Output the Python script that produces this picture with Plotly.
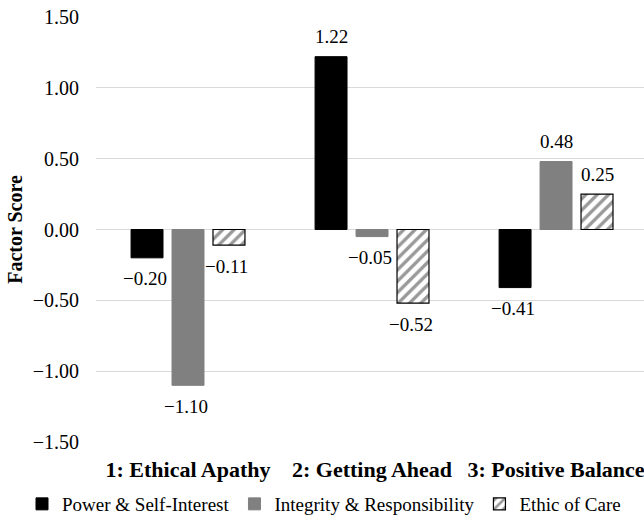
import plotly.graph_objects as go

# Factor scores per profile
categories = ["1: Ethical Apathy", "2: Getting Ahead", "3: Positive Balance"]
power_self_interest = [-0.20, 1.22, -0.41]
integrity_responsibility = [-1.10, -0.05, 0.48]
ethic_of_care = [-0.11, -0.52, 0.25]

series_names = ["Power & Self-Interest", "Integrity & Responsibility", "Ethic of Care"]
y_ticks = [-1.5, -1.0, -0.5, 0.0, 0.5, 1.0, 1.5]

FONT = "Liberation Serif"
W, H = 644, 520
M_L, M_R, M_T, M_B = 96, 0, 17, 78
X_RANGE = [-0.5, 2.478]
BARGAP = 0.332
BARGROUPGAP = 0.22

fig = go.Figure()

fig.add_trace(go.Bar(
    name=series_names[0], x=categories, y=power_self_interest,
    marker=dict(color="#000000", line=dict(color="#000000", width=1)),
))
fig.add_trace(go.Bar(
    name=series_names[1], x=categories, y=integrity_responsibility,
    marker=dict(color="#808080", line=dict(color="#808080", width=1)),
))
fig.add_trace(go.Bar(
    name=series_names[2], x=categories, y=ethic_of_care,
    marker=dict(
        color="#ffffff",
        line=dict(color="#000000", width=1.2),
        pattern=dict(shape="/", fgcolor="#333333", bgcolor="#ffffff",
                     size=8, solidity=0.42),
    ),
))

# value labels, one per bar, offset to each bar's slot within its group
plot_w = W - M_L - M_R
plot_h = H - M_T - M_B
px_per_unit = plot_w / (X_RANGE[1] - X_RANGE[0])
slot_px = (1 - BARGAP) / 3 * px_per_unit
annotations = []
for k, values in enumerate([power_self_interest, integrity_responsibility, ethic_of_care]):
    for cat, v in zip(categories, values):
        label = f"{v:.2f}".replace("-", "\u2212")
        annotations.append(dict(
            x=cat, y=v, xref="x", yref="y",
            text=label, showarrow=False,
            xshift=(k - 1) * slot_px + (-2 if v < 0 else 0),
            yshift=20 if v >= 0 else -21,
            xanchor="center", yanchor="middle",
            font=dict(family=FONT, size=19, color="#000000"),
        ))

# legend anchored left of the plot area so it may span the full figure width
LEGEND_LEFT_PX = 22
LEGEND_TOP_PX = 485
fig.update_layout(
    width=W, height=H,
    margin=dict(l=M_L, r=M_R, t=M_T, b=M_B, autoexpand=False),
    paper_bgcolor="#ffffff", plot_bgcolor="#ffffff",
    barmode="group", bargap=BARGAP, bargroupgap=BARGROUPGAP,
    font=dict(family=FONT, size=19, color="#000000"),
    annotations=annotations,
    showlegend=True,
    legend=dict(
        orientation="h", xref="paper", yref="paper",
        x=(LEGEND_LEFT_PX - M_L) / plot_w, xanchor="left",
        y=-(LEGEND_TOP_PX - (H - M_B)) / plot_h, yanchor="top",
        font=dict(family=FONT, size=19, color="#000000"),
        itemwidth=30, tracegroupgap=0,
    ),
)

fig.update_xaxes(
    range=X_RANGE, showgrid=False, showline=False, zeroline=False,
    ticks="", ticklabelstandoff=12, tickangle=0, automargin=False,
    tickfont=dict(family=FONT, size=22, color="#000000", weight="bold"),
)

fig.update_yaxes(
    range=[-1.5, 1.5], tickvals=y_ticks, tickformat=".2f",
    showgrid=True, gridcolor="#d9d9d9", gridwidth=1,
    zeroline=True, zerolinecolor="#d9d9d9", zerolinewidth=1,
    showline=False, ticks="", ticklabelstandoff=16, automargin=False,
    tickfont=dict(family=FONT, size=20, color="#000000"),
    title=dict(text="Factor Score", standoff=4,
               font=dict(family=FONT, size=20, color="#000000", weight="bold")),
)

fig.write_html("out.html")
